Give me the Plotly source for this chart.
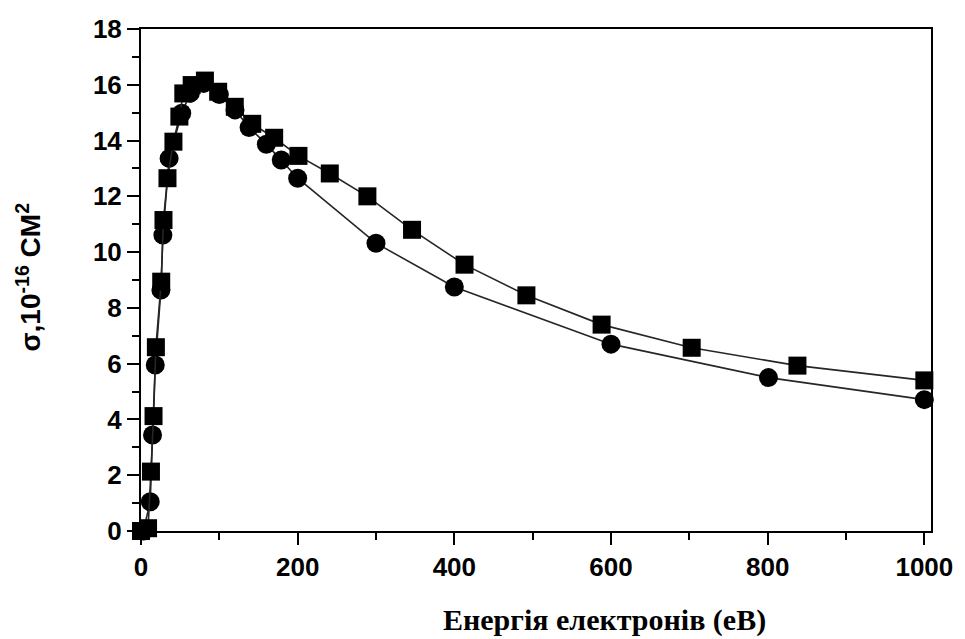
import plotly.graph_objects as go

# Electron energy (eV) and cross-section (10^-16 cm^2), square-marker series
energy_sq = [0, 9, 12.7, 16, 19, 25.8, 28.7, 33.8, 41.4, 49, 54, 64.7, 81.6, 98.5,
             119.7, 142, 170, 201, 241, 289, 346, 413, 492, 588, 703, 838, 1000]
sigma_sq = [0.0, 0.1, 2.13, 4.12, 6.59, 8.94, 11.15, 12.65, 13.96, 14.86, 15.69, 15.99,
            16.15, 15.75, 15.21, 14.6, 14.1, 13.45, 12.82, 12.0, 10.8, 9.55, 8.45,
            7.4, 6.57, 5.93, 5.4]

# Circle-marker series
energy_ci = [3, 11.8, 14.7, 18.2, 25.4, 27.9, 35.9, 52, 63, 80, 100, 120, 138,
             160, 179, 200, 300, 400, 600, 801, 1000]
sigma_ci = [0.0, 1.05, 3.44, 5.95, 8.64, 10.61, 13.36, 14.98, 15.7, 16.05, 15.65,
            15.1, 14.47, 13.87, 13.3, 12.65, 10.32, 8.75, 6.7, 5.5, 4.71]

x_ticks = [0, 200, 400, 600, 800, 1000]
y_ticks = [0, 2, 4, 6, 8, 10, 12, 14, 16, 18]

LINE = dict(color="#262626", width=1.6)

fig = go.Figure()
fig.add_trace(go.Scatter(
    x=energy_ci, y=sigma_ci, mode="lines+markers", line=LINE,
    marker=dict(symbol="circle", size=19, color="black"), cliponaxis=False,
))
fig.add_trace(go.Scatter(
    x=energy_sq, y=sigma_sq, mode="lines+markers", line=LINE,
    marker=dict(symbol="square", size=18, color="black"), cliponaxis=False,
))

tick_font = dict(family="Liberation Sans", size=26, color="black", weight="bold")

fig.update_xaxes(
    range=[0, 1008.5], tickvals=x_ticks, ticktext=[str(v) for v in x_ticks],
    showline=True, mirror=True, linecolor="black", linewidth=2,
    ticks="outside", ticklen=12, tickwidth=2, tickcolor="black",
    minor=dict(ticks="outside", ticklen=7, tickwidth=2, tickcolor="black", dtick=100, showgrid=False),
    showgrid=False, zeroline=False, tickfont=tick_font,
)
fig.update_yaxes(
    range=[0, 18], tickvals=y_ticks, ticktext=[str(v) for v in y_ticks],
    showline=True, mirror=True, linecolor="black", linewidth=2,
    ticks="outside", ticklen=12, tickwidth=2, tickcolor="black",
    minor=dict(ticks="outside", ticklen=7, tickwidth=2, tickcolor="black", dtick=1, showgrid=False),
    showgrid=False, zeroline=False, tickfont=tick_font,
)

fig.add_annotation(
    text="σ,10<sup>-16</sup> CM<sup>2</sup>", textangle=-90,
    xref="paper", yref="paper", x=-0.1423, y=0.506,
    xanchor="center", yanchor="middle", showarrow=False,
    font=dict(family="Liberation Sans", size=28, color="black", weight="bold"),
)
fig.add_annotation(
    text="Енергія електронів (еВ)",
    xref="paper", yref="paper", x=0.587, y=-0.177,
    xanchor="center", yanchor="middle", showarrow=False,
    font=dict(family="Liberation Serif", size=30, color="black", weight="bold"),
)

fig.update_layout(
    width=965, height=639,
    margin=dict(l=141, r=30, t=29, b=108),
    plot_bgcolor="white", paper_bgcolor="white",
    showlegend=False,
)

fig.write_html("out.html")
